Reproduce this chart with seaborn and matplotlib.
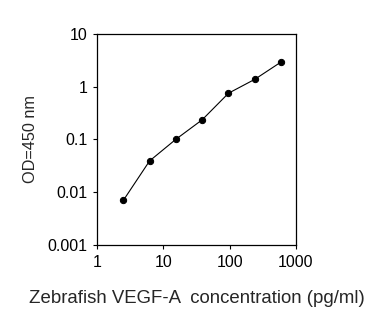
import matplotlib
matplotlib.use("Agg")
import matplotlib.pyplot as plt
import seaborn as sns
import pandas as pd
from matplotlib.ticker import FixedLocator, FixedFormatter, NullLocator

concentration = [2.5, 6.2, 15.4, 38.5, 96, 240, 600]
od450 = [0.0070, 0.039, 0.100, 0.235, 0.75, 1.38, 2.95]
x_ticks = [1, 10, 100, 1000]
x_tick_labels = ["1", "10", "100", "1000"]
y_ticks = [0.001, 0.01, 0.1, 1, 10]
y_tick_labels = ["0.001", "0.01", "0.1", "1", "10"]

sns.set_style("ticks")
plt.rcParams['font.family'] = ['Liberation Sans', 'DejaVu Sans']

df = pd.DataFrame({"conc": concentration, "od": od450})

fig = plt.figure(figsize=(3.79, 3.26), dpi=100)
ax = fig.add_axes([0.256, 0.249, 0.525, 0.647])
sns.lineplot(data=df, x="conc", y="od", ax=ax, color="black", linewidth=0.8,
             marker="o", markersize=4.5, markeredgecolor="black")
ax.set_xscale("log")
ax.set_yscale("log")
ax.set_xlim(1, 1000)
ax.set_ylim(0.001, 10)
ax.xaxis.set_major_locator(FixedLocator(x_ticks))
ax.xaxis.set_major_formatter(FixedFormatter(x_tick_labels))
ax.yaxis.set_major_locator(FixedLocator(y_ticks))
ax.yaxis.set_major_formatter(FixedFormatter(y_tick_labels))
ax.xaxis.set_minor_locator(NullLocator())
ax.yaxis.set_minor_locator(NullLocator())
ax.tick_params(axis="both", direction="out", length=3, width=0.8, labelsize=11.5,
               colors="black", pad=4)
for s in ax.spines.values():
    s.set_linewidth(0.9)
    s.set_color("black")
ax.set_xlabel("Zebrafish VEGF-A  concentration (pg/ml)", fontsize=13.4, labelpad=15)
ax.set_ylabel("OD=450 nm", fontsize=11.7, labelpad=7)
fig.savefig("out.png", dpi=100)
